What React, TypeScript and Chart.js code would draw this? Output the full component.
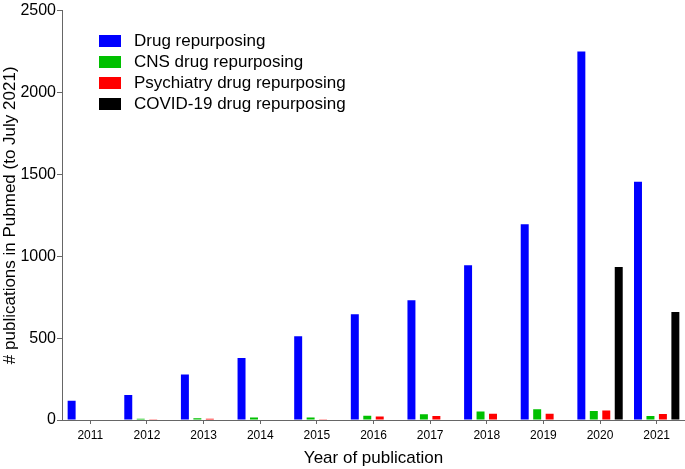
import React, { useEffect, useRef } from "react";
import { Chart, registerables } from "chart.js";

Chart.register(...registerables);

const years = ["2011", "2012", "2013", "2014", "2015", "2016", "2017", "2018", "2019", "2020", "2021"];
const drugRepurposing = [118, 152, 278, 378, 512, 645, 732, 945, 1195, 2250, 1455];
const cnsRepurposing = [3, 7, 11, 16, 16, 26, 35, 52, 65, 55, 24];
const psychiatryRepurposing = [0, 1, 7, 3, 4, 22, 24, 38, 38, 58, 36];
const covidRepurposing = [null, null, null, null, null, null, null, null, null, 935, 660];
const yTicks = [0, 500, 1000, 1500, 2000, 2500];

const seriesNames = ["Drug repurposing", "CNS drug repurposing", "Psychiatry drug repurposing", "COVID-19 drug repurposing"];
const seriesColors = ["#0000ff", "#00c000", "#ff0000", "#000000"];

const FONT = "'Liberation Sans', Arial, sans-serif";

const legendPlugin = {
  id: "insideLegend",
  afterDraw(chart: any) {
    const ctx = chart.ctx;
    ctx.save();
    ctx.font = `17px ${FONT}`;
    ctx.textBaseline = "middle";
    ctx.textAlign = "left";
    seriesNames.forEach((name, i) => {
      const y = 41 + i * 21;
      ctx.fillStyle = seriesColors[i];
      ctx.fillRect(99, y - 6, 22, 12);
      ctx.fillStyle = "#000";
      ctx.fillText(name, 134, y);
    });
    ctx.restore();
  },
};

export default function App() {
  const ref = useRef<HTMLCanvasElement>(null);
  useEffect(() => {
    document.body.style.margin = "0";
    const datasets = [drugRepurposing, cnsRepurposing, psychiatryRepurposing, covidRepurposing].map((d, i) => ({
      label: seriesNames[i],
      data: d,
      backgroundColor: seriesColors[i],
      borderWidth: 0,
      barPercentage: 0.64,
      categoryPercentage: 0.88,
    }));
    const chart = new Chart(ref.current!, {
      type: "bar",
      data: { labels: years, datasets },
      options: {
        animation: false,
        responsive: false,
        maintainAspectRatio: false,
        layout: { padding: { top: 7, right: 0, left: 0, bottom: 0 } },
        plugins: { legend: { display: false }, tooltip: { enabled: false } },
        scales: {
          x: {
            grid: { display: true, offset: false, drawOnChartArea: false, drawTicks: true, tickLength: 4, color: "#666" },
            border: { display: true, color: "#666", width: 1 },
            ticks: { color: "#000", font: { family: FONT, size: 12 }, padding: 4, maxRotation: 0 },
            title: { display: true, text: "Year of publication", color: "#000", font: { family: FONT, size: 17 }, padding: { top: 5, bottom: 0 } },
            afterFit(scale: any) { scale.height = 49; },
          },
          y: {
            min: 0,
            max: 2500,
            afterBuildTicks(scale: any) { scale.ticks = yTicks.map((v) => ({ value: v })); },
            grid: { display: true, drawOnChartArea: false, drawTicks: true, tickLength: 5, color: "#666" },
            border: { display: true, color: "#666", width: 1 },
            ticks: { color: "#000", font: { family: FONT, size: 16 }, padding: 1, callback: (v: any) => String(v) },
            title: { display: true, text: "# publications in Pubmed (to July 2021)", color: "#000", font: { family: FONT, size: 17 }, padding: { top: 0, bottom: 0 } },
            afterFit(scale: any) { scale.width = 62; },
          },
        },
      },
      plugins: [legendPlugin],
    });
    return () => chart.destroy();
  }, []);
  return (
    <div style={{ position: "absolute", left: 0, top: 0, width: 685, height: 469 }}>
      <canvas ref={ref} width={685} height={469} />
    </div>
  );
}
